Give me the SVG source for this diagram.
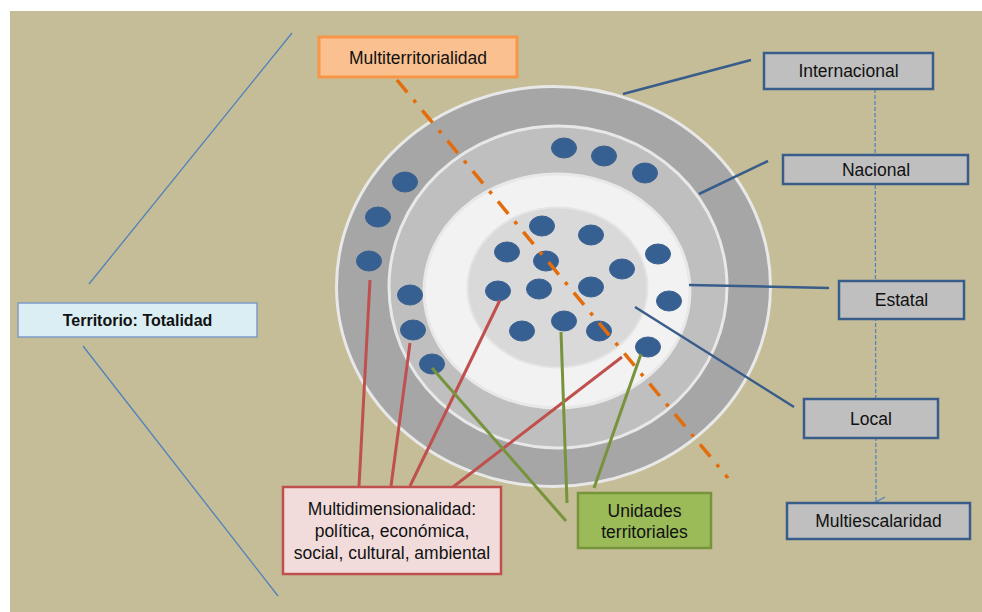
<svg xmlns="http://www.w3.org/2000/svg" width="982" height="612" viewBox="0 0 982 612">
<style>
.t{font-family:"Liberation Sans",Arial,sans-serif;font-size:17.5px;fill:#111;text-anchor:middle;dominant-baseline:central}
.scale rect{fill:#BFBFBF;stroke:#385D8A;stroke-width:2.5}
.dot{fill:#376092;stroke:#3A6090;stroke-width:1}
.ring{stroke:#E8E8E8;stroke-width:3}
.blue{stroke:#385D8A;stroke-width:2.5;fill:none}
.red{stroke:#C0504D;stroke-width:3;fill:none}
.green{stroke:#77933C;stroke-width:3;fill:none}
.thin{stroke:#4F81BD;stroke-width:1.3;fill:none}
</style>
<defs>
<marker id="chev" viewBox="0 0 12 12" refX="6" refY="11" markerWidth="12" markerHeight="12" markerUnits="userSpaceOnUse" orient="auto-start-reverse">
<path d="M1,2 L6,11 L11,2" fill="none" stroke="#4F81BD" stroke-width="1.3"/>
</marker>
</defs>
<rect x="0" y="0" width="982" height="612" fill="#FFFFFF"/>
<rect x="10" y="11" width="972" height="601" fill="#C4BD97"/>

<g id="territory">
<ellipse class="ring" cx="553.5" cy="286.5" rx="217" ry="200" fill="#A6A6A6"/>
<ellipse class="ring" cx="558" cy="287" rx="169" ry="161" fill="#BFBFBF"/>
<ellipse class="ring" cx="557" cy="291" rx="133" ry="117" fill="#F2F2F2"/>
<ellipse cx="557.5" cy="287.5" rx="90" ry="80" fill="#D9D9D9" stroke="#E4E4E4" stroke-width="2"/>
</g>

<g id="units">
<ellipse class="dot" cx="405" cy="182" rx="12.5" ry="10"/>
<ellipse class="dot" cx="378" cy="217" rx="12.5" ry="10"/>
<ellipse class="dot" cx="369" cy="261" rx="12.5" ry="10"/>
<ellipse class="dot" cx="564" cy="148" rx="12.5" ry="10"/>
<ellipse class="dot" cx="604" cy="156" rx="12.5" ry="10"/>
<ellipse class="dot" cx="645" cy="173" rx="12.5" ry="10"/>
<ellipse class="dot" cx="410" cy="295" rx="12.5" ry="10"/>
<ellipse class="dot" cx="413" cy="330" rx="12.5" ry="10"/>
<ellipse class="dot" cx="432" cy="364" rx="12.5" ry="10"/>
<ellipse class="dot" cx="658" cy="254" rx="12.5" ry="10"/>
<ellipse class="dot" cx="669" cy="301" rx="12.5" ry="10"/>
<ellipse class="dot" cx="648" cy="347" rx="12.5" ry="10"/>
<ellipse class="dot" cx="542" cy="226" rx="12.5" ry="10"/>
<ellipse class="dot" cx="591" cy="235" rx="12.5" ry="10"/>
<ellipse class="dot" cx="507" cy="252" rx="12.5" ry="10"/>
<ellipse class="dot" cx="546" cy="261" rx="12.5" ry="10"/>
<ellipse class="dot" cx="622" cy="269" rx="12.5" ry="10"/>
<ellipse class="dot" cx="498" cy="291" rx="12.5" ry="10"/>
<ellipse class="dot" cx="539" cy="289" rx="12.5" ry="10"/>
<ellipse class="dot" cx="591" cy="287" rx="12.5" ry="10"/>
<ellipse class="dot" cx="522" cy="331" rx="12.5" ry="10"/>
<ellipse class="dot" cx="564" cy="321" rx="12.5" ry="10"/>
<ellipse class="dot" cx="599" cy="331" rx="12.5" ry="10"/>
</g>

<g id="connectors">
<line class="thin" x1="89" y1="284" x2="292" y2="33"/>
<line class="thin" x1="83" y1="346" x2="278" y2="596"/>
<line x1="397" y1="80" x2="728" y2="478" stroke="#E46C0A" stroke-width="3.5" stroke-dasharray="16 10 3.5 10"/>
<line class="blue" x1="623" y1="94" x2="751" y2="60"/>
<line class="blue" x1="699" y1="194" x2="768" y2="161"/>
<line class="blue" x1="689" y1="285" x2="829" y2="288"/>
<line class="blue" x1="635" y1="307" x2="794" y2="407"/>
<line class="red" x1="359" y1="486" x2="370" y2="280"/>
<line class="red" x1="391" y1="486" x2="410" y2="343"/>
<line class="red" x1="410" y1="486" x2="500" y2="300"/>
<line class="red" x1="453" y1="487" x2="622" y2="357"/>
<line class="green" x1="432" y1="368" x2="566" y2="521"/>
<line class="green" x1="561" y1="332" x2="567" y2="503"/>
<line class="green" x1="641" y1="354" x2="594" y2="488"/>
<line x1="875" y1="89" x2="876" y2="502" stroke="#4F81BD" stroke-width="1.2" stroke-dasharray="4 2" marker-end="url(#chev)"/>
</g>

<g id="totalidad">
<rect x="18" y="303" width="239" height="34" fill="#DBEEF4" stroke="#7D9CC8" stroke-width="1.5"/>
<text class="t" x="137.5" y="320.5" style="font-weight:bold;font-size:16px">Territorio: Totalidad</text>
</g>
<g id="multiterritorialidad">
<rect x="319" y="37" width="198" height="40" fill="#FAC090" stroke="#F79646" stroke-width="3"/>
<text class="t" x="418" y="57.5">Multiterritorialidad</text>
</g>
<g id="internacional" class="scale">
<rect x="764" y="53" width="169" height="36"/>
<text class="t" x="848.5" y="71">Internacional</text>
</g>
<g id="nacional" class="scale">
<rect x="783" y="155" width="185" height="29"/>
<text class="t" x="876" y="169.5">Nacional</text>
</g>
<g id="estatal" class="scale">
<rect x="839" y="281" width="125" height="38"/>
<text class="t" x="901.5" y="300">Estatal</text>
</g>
<g id="local" class="scale">
<rect x="804" y="399" width="134" height="39"/>
<text class="t" x="871" y="418.5">Local</text>
</g>
<g id="multiescalaridad" class="scale">
<rect x="787" y="503" width="183" height="36"/>
<text class="t" x="878.5" y="521">Multiescalaridad</text>
</g>
<g id="multidimensionalidad">
<rect x="283" y="487" width="218" height="87" fill="#F2DCDB" stroke="#C0504D" stroke-width="2.5"/>
<text class="t" x="392" y="509">Multidimensionalidad:</text>
<text class="t" x="392" y="531">política, económica,</text>
<text class="t" x="392" y="553">social, cultural, ambiental</text>
</g>
<g id="unidades">
<rect x="578" y="493" width="133" height="55" fill="#9BBB59" stroke="#77933C" stroke-width="2.5"/>
<text class="t" x="644.5" y="511">Unidades</text>
<text class="t" x="644.5" y="532">territoriales</text>
</g>
</svg>
